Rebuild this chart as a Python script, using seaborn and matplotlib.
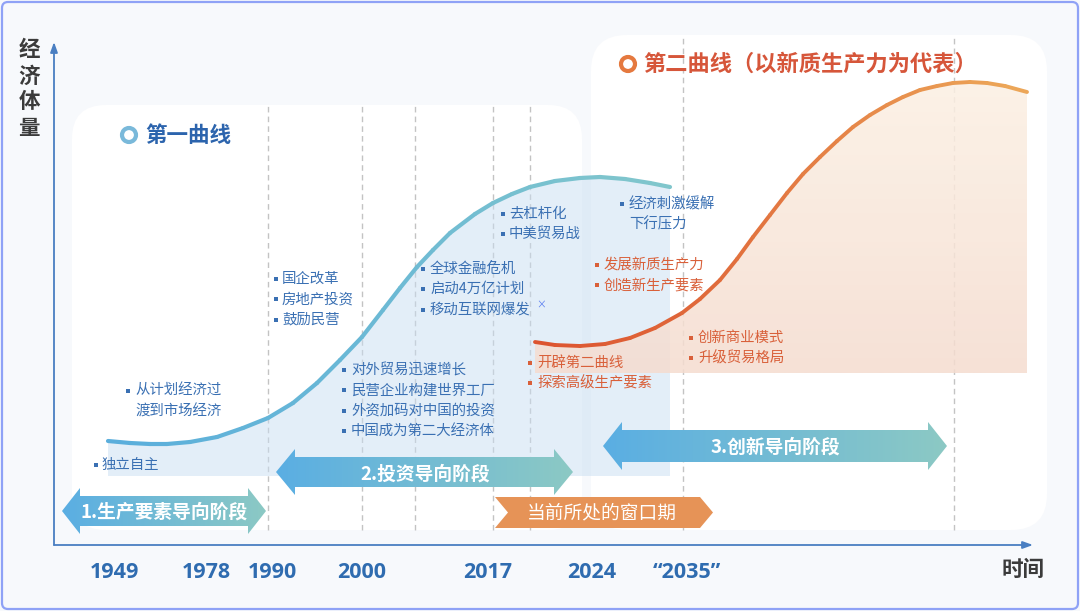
import numpy as np
import pandas as pd
import matplotlib
matplotlib.use("Agg")
import matplotlib.pyplot as plt
import seaborn as sns
from matplotlib.patches import FancyBboxPatch, Polygon, Circle
from matplotlib.colors import LinearSegmentedColormap

# ---------------- data ----------------
H = 611  # canvas height, used to turn picture rows into "volume"

# first curve (x position, economic volume)
curve1_x = [108, 130, 150, 167, 190, 217, 243, 268, 293, 317, 340, 362, 383, 400,
            417, 433, 450, 475, 493, 512, 530, 555, 580, 600, 625, 650, 670]
curve1_v = [170, 168, 167, 167, 169, 174, 183, 193, 208, 228, 251, 274, 301, 323,
            344, 361, 378, 397, 408, 417, 424, 430, 433, 434, 432, 428, 424]
curve1_base = 135

# second curve
curve2_x = [535, 555, 580, 605, 630, 655, 682, 700, 720, 737, 753, 770, 787,
            803, 820, 837, 853, 870, 887, 903, 920, 937, 953, 970, 987, 1005, 1027]
curve2_v = [269, 266, 265, 267, 273, 283, 298, 312, 331, 352, 374, 396, 418,
            437, 454, 470, 484, 496, 506, 514, 521, 525, 528, 529, 528, 525, 519]
curve2_base = 238

year_labels = ["1949", "1978", "1990", "2000", "2017", "2024", "“2035”"]
year_x = [114, 206, 272, 362, 488, 592, 687]
divider_x = [268, 362, 415, 493, 530, 683, 954]

stage_labels = ["1.生产要素导向阶段", "2.投资导向阶段", "3.创新导向阶段"]
window_label = "当前所处的窗口期"

notes_blue = [
    ["独立自主"],
    ["从计划经济过", "渡到市场经济"],
    ["国企改革", "房地产投资", "鼓励民营"],
    ["对外贸易迅速增长", "民营企业构建世界工厂", "外资加码对中国的投资", "中国成为第二大经济体"],
    ["全球金融危机", "启动4万亿计划", "移动互联网爆发"],
    ["去杠杆化", "中美贸易战"],
    ["经济刺激缓解", "下行压力"],
]
notes_orange = [
    ["发展新质生产力", "创造新生产要素"],
    ["开辟第二曲线", "探索高级生产要素"],
    ["创新商业模式", "升级贸易格局"],
]

# ---------------- style ----------------
sns.set_theme(style="white")
plt.rcParams["font.family"] = ["Noto Sans CJK SC", "DejaVu Sans"]

BG = "#f7f9fc"
BLUE_TXT = "#3a70b3"
ORANGE_TXT = "#d9603a"
YEAR_C = "#2f6cb0"
DARK = "#3b3b3b"

fig = plt.figure(figsize=(10.8, 6.11), dpi=100, facecolor=BG)
ax = fig.add_axes([0, 0, 1, 1])
ax.axis("off")


def Y(py):
    return H - py


# outer frame
ax.add_patch(FancyBboxPatch((2, 2), 1076, 607, boxstyle="round,pad=0,rounding_size=6",
                            fc=BG, ec="#8fa2f6", lw=1.6, zorder=0))

# panels
ax.add_patch(FancyBboxPatch((72, Y(530)), 510, 425, boxstyle="round,pad=0,rounding_size=34",
                            fc="white", ec="none", zorder=1))
ax.add_patch(FancyBboxPatch((591, Y(530)), 456, 495, boxstyle="round,pad=0,rounding_size=36",
                            fc="white", ec="none", zorder=1))

# dashed dividers
for i, xd in enumerate(divider_x):
    top = Y(105) if i < 5 else Y(35)
    ax.plot([xd, xd], [Y(530), top], color="#c3c3c3", lw=1.0, dashes=(4, 3), zorder=2)


def gradient_patch(verts, extent, colors, direction, alpha, zorder):
    patch = Polygon(verts, closed=True, fc="none", ec="none", zorder=zorder)
    ax.add_patch(patch)
    cmap = LinearSegmentedColormap.from_list("g", colors)
    if direction == "h":
        arr = np.linspace(0, 1, 256).reshape(1, -1)
    else:
        arr = np.linspace(0, 1, 256).reshape(-1, 1)
    im = ax.imshow(arr, cmap=cmap, extent=extent, origin="lower", aspect="auto",
                   alpha=alpha, zorder=zorder, interpolation="bilinear")
    im.set_clip_path(patch)
    return im


def gradient_line(x, y, c0, c1, lw, z):
    n = len(x) - 1
    rows = []
    for i in range(n):
        rows.append((f"s{i:02d}", x[i], y[i]))
        rows.append((f"s{i:02d}", x[i + 1], y[i + 1]))
    df = pd.DataFrame(rows, columns=["seg", "x", "y"])
    cmap = LinearSegmentedColormap.from_list("l", [c0, c1])
    pal = {f"s{i:02d}": cmap(i / max(n - 1, 1)) for i in range(n)}
    sns.lineplot(data=df, x="x", y="y", hue="seg", palette=pal, legend=False,
                 sort=False, estimator=None, lw=lw, ax=ax, solid_capstyle="round",
                 zorder=z)


# fill under curve 1
v1 = list(zip(curve1_x, curve1_v)) + [(curve1_x[-1], curve1_base), (curve1_x[0], curve1_base)]
ax.add_patch(Polygon(v1, closed=True, fc="#c9def2", ec="none", alpha=0.5, zorder=3))

# fill under curve 2 (vertical gradient)
v2 = list(zip(curve2_x, curve2_v)) + [(curve2_x[-1], curve2_base), (curve2_x[0], curve2_base)]
gradient_patch(v2, [curve2_x[0], curve2_x[-1], curve2_base, max(curve2_v)],
               ["#f5dccf", "#fcf0e3"], "v", 0.85, 3.2)

# curves
gradient_line(curve1_x, curve1_v, "#5aaedc", "#80c6cc", 3.0, 4)
gradient_line(curve2_x, curve2_v, "#dc5430", "#eca658", 2.8, 4.1)

# axes lines
ax.annotate("", xy=(54, Y(42)), xytext=(54, Y(545)),
            arrowprops=dict(arrowstyle="-|>,head_length=0.5,head_width=0.18",
                            color="#4a7fc2", lw=1.3, shrinkA=0, shrinkB=0), zorder=5)
ax.annotate("", xy=(1033, Y(545)), xytext=(54, Y(545)),
            arrowprops=dict(arrowstyle="-|>,head_length=0.5,head_width=0.18",
                            color="#4a7fc2", lw=1.3, shrinkA=0, shrinkB=0), zorder=5)


# stage arrows
def double_arrow(x0, x1, yc, hb, hh, hl):
    return [(x0, yc), (x0 + hl, yc + hh), (x0 + hl, yc + hb), (x1 - hl, yc + hb),
            (x1 - hl, yc + hh), (x1, yc), (x1 - hl, yc - hh), (x1 - hl, yc - hb),
            (x0 + hl, yc - hb), (x0 + hl, yc - hh)]


arrows = [(62, 266, Y(511), 15, 23, 18, 164, Y(512)),
          (276, 573, Y(472), 15, 23, 19, 425, Y(474)),
          (603, 947, Y(446), 16, 24, 19, 775, Y(447))]
for (x0, x1, yc, hb, hh, hl, tx, ty), lab in zip(arrows, stage_labels):
    gradient_patch(double_arrow(x0, x1, yc, hb, hh, hl), [x0, x1, yc - hh, yc + hh],
                   ["#5aaee3", "#8cc9c4"], "h", 1.0, 5)
    ax.text(tx, ty, lab, color="white", fontsize=13.5, fontweight="bold",
            ha="center", va="center", zorder=6)

# window arrow
wv = [(495, Y(497)), (700, Y(497)), (713, Y(512.5)), (700, Y(528)), (495, Y(528)), (508, Y(512.5))]
ax.add_patch(Polygon(wv, closed=True, fc="#e69357", ec="none", zorder=5))
ax.text(602, Y(513), window_label, color="white", fontsize=13.5, ha="center", va="center", zorder=6)

# titles
ax.add_patch(Circle((129, Y(135)), 7, fc="white", ec="#7ab9da", lw=3, zorder=6))
ax.text(145, Y(135), "第一曲线", color="#2c64ad", fontsize=15.5, fontweight="bold",
        ha="left", va="center", zorder=6)
ax.add_patch(Circle((628, Y(64)), 7, fc="white", ec="#e5793f", lw=3, zorder=6))
ax.text(643, Y(64), "第二曲线（以新质生产力为代表）", color="#d6563a", fontsize=16,
        fontweight="bold", ha="left", va="center", zorder=6)

# y label
for i, ch in enumerate("经济体量"):
    ax.text(29, Y(50 + i * 26), ch, color=DARK, fontsize=15.5, fontweight="bold",
            ha="center", va="center", zorder=6)
ax.text(1023, Y(569), "时间", color=DARK, fontsize=15.5, fontweight="bold",
        ha="center", va="center", zorder=6)

# years
for lab, xx in zip(year_labels, year_x):
    ax.text(xx, Y(572), lab, color=YEAR_C, fontsize=15.5, fontweight="bold",
            family=["Open Sans", "DejaVu Sans"], ha="center", va="center", zorder=6)

# notes
LS = 20.3
blue_layout = [(96, 102, 465, False), (128, 135, 391, True), (276, 282, 279, False),
               (344, 351, 370, False), (423, 430, 269, False), (503, 509, 214, False),
               (622, 629, 204, True)]
orange_layout = [(597, 604, 265, False), (530, 537, 363, False), (691, 698, 338, False)]


def draw_notes(groups, layout, color):
    for lines, (bx, tx, py, first_only) in zip(groups, layout):
        for j, line in enumerate(lines):
            yy = Y(py + j * LS)
            if j == 0 or not first_only:
                ax.plot([bx], [yy], marker="s", ms=2.4, color=color, mew=0, zorder=6)
            ax.text(tx, yy, line, color=color, fontsize=10.4, ha="left", va="center", zorder=6)


draw_notes(notes_blue, blue_layout, BLUE_TXT)
draw_notes(notes_orange, orange_layout, ORANGE_TXT)
ax.text(541, Y(305), "×", color="#5b7ef0", fontsize=7, ha="center", va="center", zorder=6)

ax.set_xlim(0, 1080)
ax.set_ylim(0, H)
fig.savefig("out.png", dpi=100, facecolor=BG)
